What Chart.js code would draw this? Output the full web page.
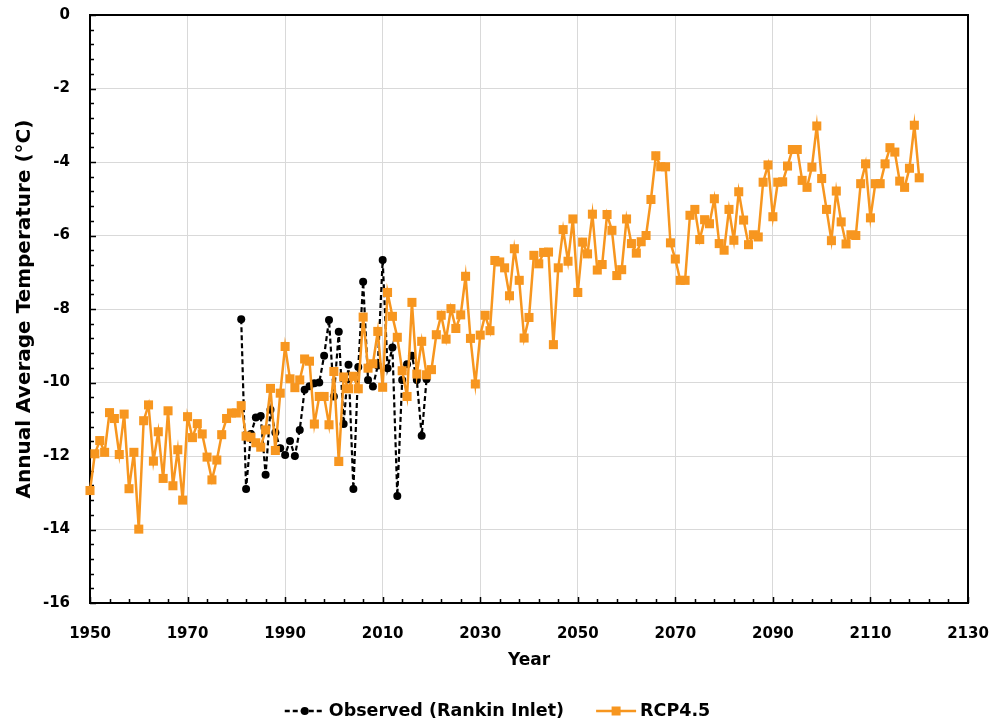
<!DOCTYPE html>
<html>
<head>
<meta charset="utf-8">
<script src="https://cdn.jsdelivr.net/npm/chart.js@4.4.1/dist/chart.umd.min.js"></script>
<style>
  html, body { margin: 0; padding: 0; background: #fff; }
  #wrap { width: 995px; height: 723px; }
</style>
</head>
<body>
<div id="wrap"><canvas id="tempChart" width="995" height="723"></canvas></div>
<script>
// RCP4.5 projection, one value per year from 1950
const rcpStartYear = 1950;
const rcpValues = [
  -12.94, -11.94, -11.58, -11.90, -10.82, -10.98, -11.96, -10.86, -12.89, -11.90,
  -13.99, -11.04, -10.61, -12.14, -11.34, -12.61, -10.77, -12.81, -11.83, -13.20,
  -10.93, -11.50, -11.12, -11.40, -12.03, -12.65, -12.11, -11.42, -10.98, -10.83,
  -10.83, -10.63, -11.46, -11.49, -11.64, -11.76, -11.29, -10.16, -11.85, -10.29,
  -9.02, -9.90, -10.14, -9.93, -9.36, -9.42, -11.13, -10.38, -10.38, -11.15,
  -9.70, -12.15, -9.85, -10.17, -9.83, -10.17, -8.22, -9.61, -9.49, -8.61,
  -10.13, -7.55, -8.20, -8.77, -9.68, -10.38, -7.82, -9.77, -8.88, -9.79,
  -9.65, -8.70, -8.17, -8.82, -7.99, -8.53, -8.16, -7.11, -8.80, -10.04,
  -8.71, -8.17, -8.59, -6.68, -6.72, -6.88, -7.64, -6.36, -7.22, -8.79,
  -8.23, -6.54, -6.77, -6.46, -6.45, -8.97, -6.88, -5.84, -6.70, -5.55,
  -7.55, -6.18, -6.50, -5.42, -6.94, -6.79, -5.43, -5.86, -7.09, -6.93,
  -5.55, -6.22, -6.48, -6.17, -6.00, -5.02, -3.83, -4.13, -4.13, -6.20,
  -6.64, -7.22, -7.22, -5.45, -5.29, -6.11, -5.57, -5.68, -5.00, -6.22,
  -6.40, -5.29, -6.13, -4.81, -5.58, -6.25, -5.98, -6.04, -4.55, -4.08,
  -5.49, -4.55, -4.54, -4.11, -3.66, -3.66, -4.50, -4.69, -4.14, -3.02,
  -4.45, -5.29, -6.14, -4.79, -5.63, -6.23, -5.98, -6.00, -4.59, -4.05,
  -5.52, -4.59, -4.59, -4.05, -3.61, -3.73, -4.52, -4.69, -4.17, -3.00,
  -4.43
];

// Observed at Rankin Inlet, one value per year from 1981
const obsStartYear = 1981;
const obsValues = [
  -8.28, -12.90, -11.40, -10.95, -10.91, -12.51, -10.74, -11.36, -11.79,
  -11.97, -11.59, -12.00, -11.29, -10.20, -10.10, -10.02, -10.00, -9.27, -8.30,
  -10.38, -8.62, -11.13, -9.52, -12.90, -9.58, -7.26, -9.93, -10.11, -9.54,
  -6.67, -9.61, -9.05, -13.09, -9.93, -9.50, -9.27, -9.93, -11.45, -9.91
];

// Axis ranges and labels
const xMin = 1950, xMax = 2130, xStep = 20, xMinorStep = 4;
const yMin = -16, yMax = 0, yStep = 2, yMinorPerMajor = 5;
const xTitle = 'Year';
const yTitle = 'Annual Average Temperature (\u00B0C)';
const obsLabel = 'Observed (Rankin Inlet)';
const rcpLabel = 'RCP4.5';

const orange = '#F7961F';
const gridGray = '#D9D9D9';
const fontFamily = '"DejaVu Sans", Verdana, sans-serif';

function toPoints(startYear, values) {
  return values.map((v, i) => ({ x: startYear + i, y: v }));
}

// Plot frame plus the small inward ticks on both axes
const frameTicks = {
  id: 'frameTicks',
  beforeDatasetsDraw(chart) {
    const { ctx, chartArea: a, scales: { x, y } } = chart;
    ctx.save();
    ctx.strokeStyle = '#000';
    ctx.lineWidth = 1.5;
    ctx.beginPath();
    const nx = (xMax - xMin) / xMinorStep;
    for (let i = 0; i <= nx; i++) {
      const v = xMin + i * xMinorStep;
      const px = Math.round(x.getPixelForValue(v)) + 0.5;
      const len = (v - xMin) % xStep === 0 ? 6 : 4;
      ctx.moveTo(px, a.bottom);
      ctx.lineTo(px, a.bottom - len);
    }
    const ny = ((yMax - yMin) / yStep) * yMinorPerMajor;
    for (let i = 0; i <= ny; i++) {
      const v = yMin + (i * yStep) / yMinorPerMajor;
      const py = Math.round(y.getPixelForValue(v)) + 0.5;
      const len = i % yMinorPerMajor === 0 ? 6 : 4;
      ctx.moveTo(a.left, py);
      ctx.lineTo(a.left + len, py);
    }
    ctx.stroke();
    ctx.lineWidth = 2;
    ctx.strokeRect(a.left, a.top, a.right - a.left, a.bottom - a.top);
    ctx.restore();
  }
};

// Excel-like legend under the axis title: line + marker, then text
const bottomLegend = {
  id: 'bottomLegend',
  afterDraw(chart) {
    const ctx = chart.ctx;
    const cy = 711;
    const symW = 40, gapText = 4, gapItems = 32;
    ctx.save();
    ctx.font = 'bold 17.5px ' + fontFamily;
    ctx.textBaseline = 'middle';
    const items = [chart.data.datasets[1], chart.data.datasets[0]];
    const widths = items.map(d => symW + gapText + ctx.measureText(d.label).width);
    const total = widths.reduce((s, w) => s + w, 0) + gapItems;
    let x = chart.width / 2 - total / 2;
    items.forEach((d, i) => {
      ctx.strokeStyle = d.borderColor;
      ctx.lineWidth = 2.5;
      ctx.setLineDash(d.borderDash || []);
      ctx.beginPath();
      ctx.moveTo(x, cy);
      ctx.lineTo(x + symW, cy);
      ctx.stroke();
      ctx.setLineDash([]);
      ctx.fillStyle = d.pointBackgroundColor;
      if (d.pointStyle === 'rect') {
        ctx.fillRect(x + symW / 2 - 4.5, cy - 4.5, 9, 9);
      } else {
        ctx.beginPath();
        ctx.arc(x + symW / 2, cy, 4, 0, Math.PI * 2);
        ctx.fill();
      }
      ctx.fillStyle = '#000';
      ctx.fillText(d.label, x + symW + gapText, cy);
      x += widths[i] + gapItems;
    });
    ctx.restore();
  }
};

const ctx = document.getElementById('tempChart').getContext('2d');
new Chart(ctx, {
  type: 'line',
  data: {
    datasets: [{
      label: rcpLabel,
      data: toPoints(rcpStartYear, rcpValues),
      borderColor: orange,
      backgroundColor: orange,
      borderWidth: 2.5,
      pointStyle: 'rect',
      pointRadius: 6.4,
      pointBackgroundColor: orange,
      pointBorderColor: orange,
      pointBorderWidth: 0,
      tension: 0,
      clip: false
    }, {
      label: obsLabel,
      data: toPoints(obsStartYear, obsValues),
      borderColor: '#000',
      backgroundColor: '#000',
      borderWidth: 2.2,
      borderDash: [5, 3],
      pointStyle: 'circle',
      pointRadius: 4,
      pointBackgroundColor: '#000',
      pointBorderColor: '#000',
      pointBorderWidth: 0,
      tension: 0,
      clip: false
    }]
  },
  options: {
    responsive: false,
    animation: false,
    events: [],
    layout: { padding: { left: 0, right: 27, top: 15, bottom: 50 } },
    plugins: {
      legend: { display: false },
      tooltip: { enabled: false }
    },
    scales: {
      x: {
        type: 'linear',
        min: xMin,
        max: xMax,
        afterFit(scale) {
          scale.height = 70;
          scale.paddingLeft = 0;
          scale.paddingRight = 0;
        },
        border: { display: false },
        grid: { color: gridGray, lineWidth: 1, drawTicks: false },
        ticks: {
          stepSize: xStep,
          padding: 22,
          color: '#000',
          maxRotation: 0,
          font: { family: fontFamily, size: 15, weight: 'bold' },
          callback: v => String(v)
        },
        title: {
          display: true,
          text: xTitle,
          color: '#000',
          padding: { top: 0, bottom: 2 },
          font: { family: fontFamily, size: 17, weight: 'bold' }
        }
      },
      y: {
        min: yMin,
        max: yMax,
        afterFit(scale) {
          scale.width = 90;
          scale.paddingTop = 0;
          scale.paddingBottom = 0;
        },
        border: { display: false },
        grid: { color: gridGray, lineWidth: 1, drawTicks: false },
        ticks: {
          stepSize: yStep,
          padding: 20,
          color: '#000',
          font: { family: fontFamily, size: 15, weight: 'bold' }
        },
        title: {
          display: true,
          text: yTitle,
          color: '#000',
          padding: { top: 13, bottom: 0 },
          font: { family: fontFamily, size: 20, weight: 'bold' }
        }
      }
    }
  },
  plugins: [frameTicks, bottomLegend]
});
</script>
</body>
</html>
